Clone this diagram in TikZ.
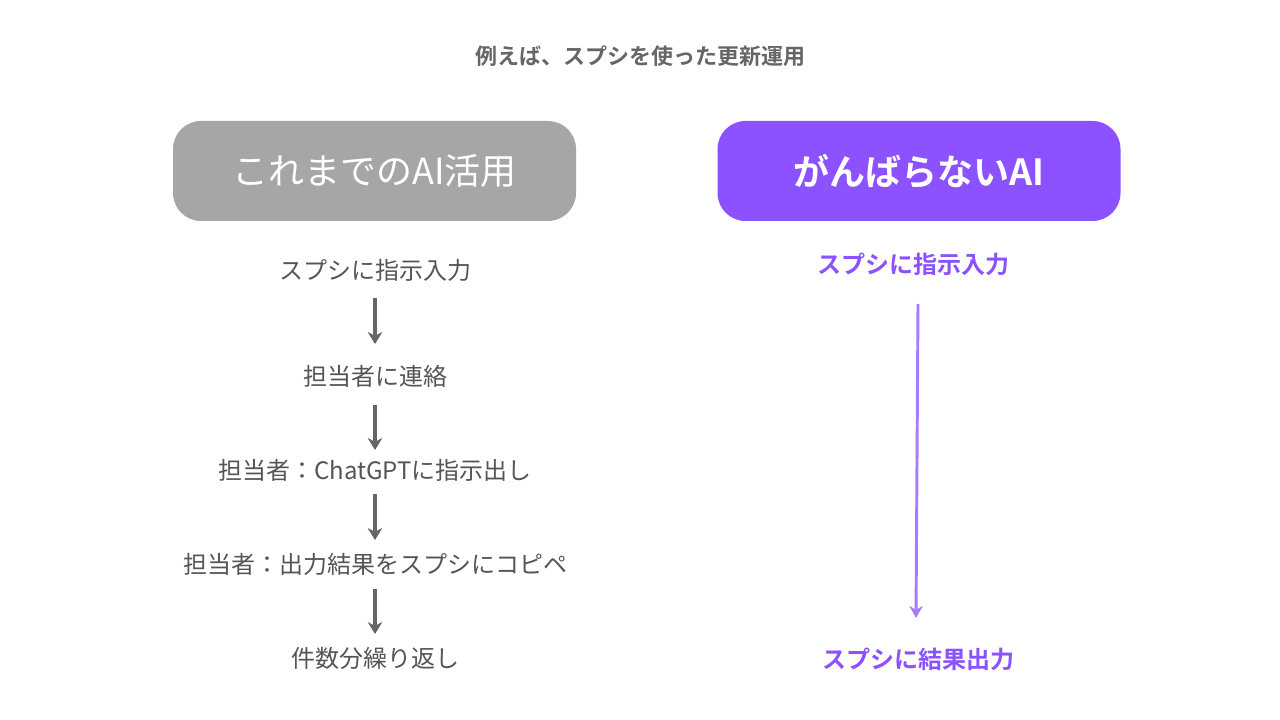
\documentclass[tikz,border=0pt]{standalone}
\usepackage{fontspec}
\setmainfont{Noto Sans CJK JP}
\newfontfamily\jpb{Noto Sans CJK JP Bold}
\usetikzlibrary{arrows.meta}
\definecolor{tgray}{HTML}{666666}
\definecolor{sgray}{HTML}{555555}
\definecolor{bgray}{HTML}{A6A6A6}
\definecolor{purp}{HTML}{8C52FF}
\definecolor{lpurp}{HTML}{A57CFF}
\tikzset{
 box/.style={rounded corners=28*0.75pt, minimum width=403*0.75pt, minimum height=100*0.75pt, text=white, font=\fontsize{27}{30}\selectfont},
 stepl/.style={text=sgray, font=\fontsize{18}{20}\selectfont},
 stepr/.style={text=purp, font=\jpb\fontsize{18}{20}\selectfont},
 garr/.style={draw=tgray, line width=3.5pt, -{Stealth[length=9pt,width=11pt]}, shorten >=0pt},
 parr/.style={draw=lpurp, line width=2.2pt, -{Stealth[length=9pt,width=10pt]}}
}
\begin{document}
\begin{tikzpicture}[x=0.75pt,y=-0.75pt]
\useasboundingbox (0,0) rectangle (1280,720);
\node[text=tgray, font=\jpb\fontsize{16.5}{18}\selectfont] (title) at (640,56) {例えば、スプシを使った更新運用};
\node[box, fill=bgray] (lb) at (374.5,171) {これまでのAI活用};
\node[box, fill=purp, font=\jpb\fontsize{27}{30}\selectfont] (rb) at (919,171) {がんばらないAI};
\node[stepl] (s1) at (375,270) {スプシに指示入力};
\node[stepl] (s2) at (375,376) {担当者に連絡};
\node[stepl] (s3) at (375,470) {担当者：ChatGPTに指示出し};
\node[stepl] (s4) at (375,564) {担当者：出力結果をスプシにコピペ};
\node[stepl] (s5) at (375,658) {件数分繰り返し};
\coordinate (a1s) at (375,298); \coordinate (a1e) at (375,344);
\coordinate (a2s) at (375,405); \coordinate (a2e) at (375,450);
\coordinate (a3s) at (375,494); \coordinate (a3e) at (375,540);
\coordinate (a4s) at (375,589); \coordinate (a4e) at (375,634);
\draw[garr] (a1s) -- (a1e);
\draw[garr] (a2s) -- (a2e);
\draw[garr] (a3s) -- (a3e);
\draw[garr] (a4s) -- (a4e);
\node[stepr] (r1) at (913,264) {スプシに指示入力};
\node[stepr] (r2) at (918,659) {スプシに結果出力};
\coordinate (ps) at (918,304); \coordinate (pe) at (916,618);
\draw[parr] (ps) -- (pe);
\end{tikzpicture}
\end{document}
